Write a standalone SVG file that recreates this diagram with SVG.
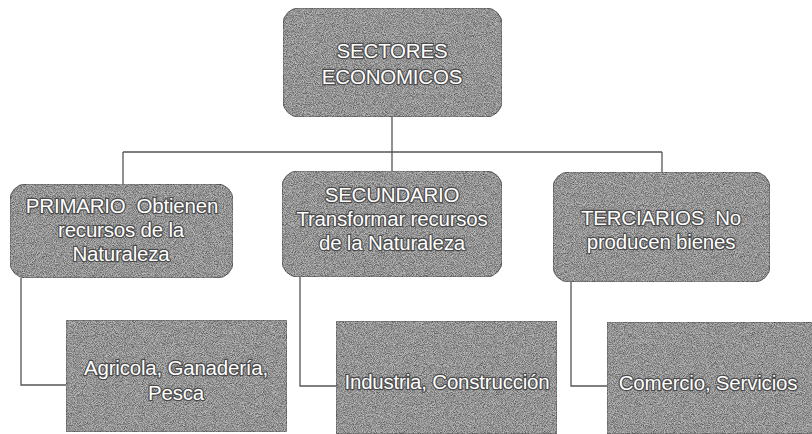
<svg xmlns="http://www.w3.org/2000/svg" width="812" height="434" viewBox="0 0 812 434">
<defs>
<filter id="grain" x="0" y="0" width="100%" height="100%" color-interpolation-filters="sRGB">
<feTurbulence type="fractalNoise" baseFrequency="1.1" numOctaves="2" seed="7" result="t"/>
<feColorMatrix in="t" type="matrix" values="1.0 0 0 0 0.3  1.0 0 0 0 0.3  1.0 0 0 0 0.3  0 0 0 0 1" result="g"/>
<feComposite in="g" in2="SourceGraphic" operator="in" result="gc"/>
<feBlend in="SourceGraphic" in2="gc" mode="multiply"/>
</filter>
</defs>
<style>
.box{fill:#b8b8b8;stroke:#707070;stroke-width:1;filter:url(#grain)}
.lbl{font-family:"Liberation Sans",Arial,sans-serif;font-size:20.5px;fill:#ffffff;text-anchor:middle;stroke:#4a4a4a;stroke-width:2.4;stroke-linejoin:round;paint-order:stroke;letter-spacing:-0.2px}
.conn{fill:none;stroke:#555;stroke-width:1.3}
</style>
<rect width="812" height="434" fill="#ffffff"/>
<g id="connectors">
<path class="conn" d="M392 117 V172"/>
<path class="conn" d="M123 152 H662"/>
<path class="conn" d="M123 152 V185"/>
<path class="conn" d="M662 152 V173"/>
<path class="conn" d="M21 278 V385 H66"/>
<path class="conn" d="M300 277 V386 H336"/>
<path class="conn" d="M571 282 V386 H607"/>
</g>
<g id="node-sectores">
<rect class="box" x="283" y="8" width="219" height="109" rx="16"/>
<text class="lbl" x="392" y="58">SECTORES</text>
<text class="lbl" x="392" y="84">ECONOMICOS</text>
</g>
<g id="node-primario">
<rect class="box" x="10" y="184" width="223" height="94" rx="16"/>
<text class="lbl" x="122" y="213">PRIMARIO&#160; Obtienen</text>
<text class="lbl" x="121" y="237">recursos de la</text>
<text class="lbl" x="121" y="261">Naturaleza</text>
</g>
<g id="node-secundario">
<rect class="box" x="282" y="171" width="220" height="106" rx="16"/>
<text class="lbl" x="392" y="202">SECUNDARIO</text>
<text class="lbl" x="392" y="226">Transformar recursos</text>
<text class="lbl" x="392" y="250">de la Naturaleza</text>
</g>
<g id="node-terciarios">
<rect class="box" x="553" y="172" width="217" height="110" rx="16"/>
<text class="lbl" x="661" y="225">TERCIARIOS&#160; No</text>
<text class="lbl" x="661" y="249">producen bienes</text>
</g>
<g id="node-agricola">
<rect class="box" x="66" y="320" width="221" height="112" rx="2"/>
<text class="lbl" x="176" y="375">Agricola, Ganadería,</text>
<text class="lbl" x="176" y="400">Pesca</text>
</g>
<g id="node-industria">
<rect class="box" x="336" y="321" width="221" height="113" rx="2"/>
<text class="lbl" x="447" y="389">Industria, Construcción</text>
</g>
<g id="node-comercio">
<rect class="box" x="607" y="322" width="210" height="112" rx="2"/>
<text class="lbl" x="708" y="390">Comercio, Servicios</text>
</g>
</svg>
